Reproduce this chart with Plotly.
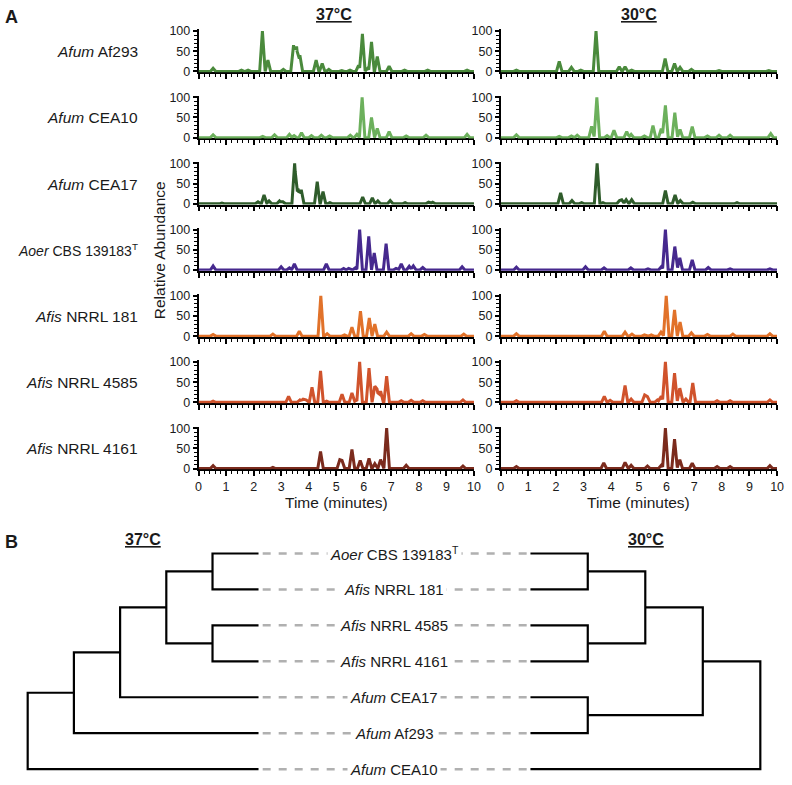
import plotly.graph_objects as go

# ---------------- data ----------------
STRAIN_LABELS = [
    "<i>Afum</i> Af293",
    "<i>Afum</i> CEA10",
    "<i>Afum</i> CEA17",
    "<i>Aoer</i> CBS 139183<sup>T</sup>",
    "<i>Afis</i> NRRL 181",
    "<i>Afis</i> NRRL 4585",
    "<i>Afis</i> NRRL 4161",
]
STRAIN_COLORS = ["#4a8a3c", "#6cb05c", "#2f5c2b", "#46298e", "#e1722a", "#d0532c", "#7b2b1d"]

# chromatogram peaks (time in minutes, relative abundance)
af293_37 = [(0.53, 8), (1.56, 3), (1.8, 3), (2.32, 100), (2.52, 28), (3.08, 5), (3.45, 65), (3.56, 62),
            (3.68, 40), (4.27, 28), (4.49, 20), (4.73, 5), (5.2, 2), (5.5, 3), (5.81, 15), (5.95, 93),
            (6.14, 8), (6.28, 73), (6.49, 37), (6.92, 13), (7.48, 3), (8.32, 3), (9.75, 3)]
cea10_37 = [(0.53, 7), (2.33, 3), (2.76, 7), (3.3, 8), (3.47, 5), (3.74, 12), (4.1, 5), (4.46, 6),
            (4.76, 4), (5.51, 6), (5.75, 8), (5.94, 100), (6.28, 50), (6.49, 23), (6.92, 15), (7.54, 4),
            (8.26, 6), (9.75, 8)]
cea17_37 = [(0.85, 2), (2.16, 5), (2.38, 22), (2.56, 7), (2.94, 7), (3.06, 5), (3.49, 100), (3.61, 38),
            (3.73, 35), (4.31, 55), (4.52, 30), (4.77, 3), (5.96, 17), (6.31, 15), (6.51, 7), (6.96, 8),
            (7.5, 3), (8.35, 4), (8.5, 4)]
aoer_37 = [(0.53, 10), (3.0, 8), (3.3, 5), (3.48, 15), (4.64, 15), (5.27, 4), (5.45, 4), (5.69, 5),
           (5.85, 100), (6.18, 83), (6.38, 42), (6.81, 65), (7.17, 4), (7.36, 15), (7.65, 9), (7.8, 10),
           (8.14, 6), (9.57, 8)]
afis181_37 = [(0.53, 4), (2.7, 5), (3.66, 12), (4.44, 100), (4.67, 6), (5.3, 3), (5.57, 22), (5.88, 62),
              (6.2, 45), (6.4, 30), (6.83, 10), (7.72, 6), (8.2, 4), (9.63, 5)]
afis4585_37 = [(0.53, 3), (3.27, 15), (3.68, 6), (3.8, 8), (3.9, 6), (4.12, 37), (4.43, 78), (4.65, 3),
               (5.21, 20), (5.57, 23), (5.72, 5), (5.85, 100), (6.19, 85), (6.4, 40), (6.48, 33),
               (6.61, 28), (6.83, 65), (7.36, 4), (7.72, 5), (8.14, 4), (9.6, 6)]
afis4161_37 = [(0.53, 7), (2.7, 3), (4.43, 42), (5.13, 22), (5.21, 20), (5.57, 47), (5.87, 20),
               (6.19, 25), (6.4, 12), (6.61, 22), (6.83, 100), (7.54, 8), (9.6, 6)]

af293_30 = [(0.57, 3), (2.12, 25), (2.56, 10), (2.9, 3), (3.45, 100), (4.29, 12), (4.5, 12), (4.74, 3),
            (5.95, 32), (6.29, 20), (6.49, 10), (6.9, 5), (7.9, 2), (9.7, 2)]
cea10_30 = [(0.57, 7), (2.12, 3), (2.56, 4), (2.77, 6), (3.29, 28), (3.48, 100), (3.85, 5), (4.1, 18),
            (4.56, 15), (4.72, 8), (5.2, 4), (5.51, 30), (5.81, 22), (5.96, 80), (6.3, 62), (6.49, 20),
            (6.93, 27), (7.48, 4), (7.9, 6), (8.3, 6), (9.77, 10)]
cea17_30 = [(2.17, 27), (2.58, 8), (2.93, 3), (3.49, 100), (3.7, 3), (4.3, 8), (4.38, 10), (4.54, 10),
            (4.74, 10), (5.96, 33), (6.31, 22), (6.5, 8), (6.95, 4), (8.55, 3)]
aoer_30 = [(0.57, 7), (3.07, 8), (3.74, 5), (4.71, 5), (5.33, 3), (5.81, 8), (5.96, 100), (6.3, 58),
           (6.48, 30), (6.93, 25), (7.51, 6), (8.3, 3), (9.74, 3)]
afis181_30 = [(0.57, 6), (3.75, 12), (4.5, 10), (4.75, 5), (5.2, 3), (5.45, 3), (5.8, 10), (5.99, 100),
              (6.29, 65), (6.49, 35), (6.9, 8), (7.48, 4), (8.4, 5), (9.74, 6)]
afis4585_30 = [(0.57, 4), (3.75, 15), (3.96, 5), (4.5, 42), (4.72, 8), (5.21, 18), (5.31, 14), (5.67, 6),
               (5.81, 15), (5.96, 100), (6.29, 72), (6.48, 35), (6.7, 8), (6.95, 48), (7.83, 4),
               (8.3, 4), (9.74, 6)]
afis4161_30 = [(0.57, 5), (3.73, 14), (4.5, 15), (4.72, 8), (5.31, 6), (5.81, 8), (5.96, 100), (6.29, 73),
               (6.48, 22), (6.93, 13), (7.83, 5), (8.3, 5), (9.74, 7)]

PEAKS_37 = [af293_37, cea10_37, cea17_37, aoer_37, afis181_37, afis4585_37, afis4161_37]
PEAKS_30 = [af293_30, cea10_30, cea17_30, aoer_30, afis181_30, afis4585_30, afis4161_30]

X_TICKS = list(range(0, 11))
Y_TICKS = [0, 50, 100]

# dendrogram (panel B)
LEAF_LABELS = [
    "<i>Aoer</i> CBS 139183<sup>T</sup>",
    "<i>Afis</i> NRRL 181",
    "<i>Afis</i> NRRL 4585",
    "<i>Afis</i> NRRL 4161",
    "<i>Afum</i> CEA17",
    "<i>Afum</i> Af293",
    "<i>Afum</i> CEA10",
]
# linkage: (child a, child b, merge height); new nodes numbered from len(leaves)
LINKS_37 = [(0, 1, 1), (2, 3, 1), (7, 8, 2), (9, 4, 3), (10, 5, 4), (11, 6, 5)]
LINKS_30 = [(0, 1, 1), (2, 3, 1), (4, 5, 1), (7, 8, 2), (10, 9, 3), (11, 6, 4)]

# ---------------- helpers ----------------
W, H = 792, 785
FONT = "Liberation Sans"
TXT = "#1a1a1a"


def px(x):
    return x / W


def py(y):
    return 1 - y / H


def chrom_xy(peaks, hw=0.1):
    xs = sorted(set([0.0, 10.0] + [round(t + d, 4) for t, _ in peaks for d in (-hw, 0.0, hw)]))
    xs = [x for x in xs if 0 <= x <= 10]
    ys = []
    for x in xs:
        v = 0.0
        for t, h in peaks:
            d = abs(x - t)
            if d < hw:
                v = max(v, h * (1 - d / hw))
        ys.append(v)
    return xs, ys


def dendro_xy(links, n):
    pos = {i: (float(i), 0.0) for i in range(n)}
    xs, ys = [], []
    for k, (a, b, h) in enumerate(links):
        ya, ha = pos[a]
        yb, hb = pos[b]
        xs += [ha, h, h, hb, None]
        ys += [ya, ya, yb, yb, None]
        pos[n + k] = ((ya + yb) / 2, h)
    return xs, ys


fig = go.Figure()
layout = dict(
    width=W, height=H, margin=dict(l=0, r=0, t=0, b=0),
    paper_bgcolor="white", plot_bgcolor="white", showlegend=False,
    font=dict(family=FONT, color=TXT),
)
annotations = []
shapes = []

XDOM = [[px(198), px(477)], [px(504), px(784)]]
for r in range(7):
    Y0 = 67.5 + 67.2 * r
    ydom = [py(Y0 + 0.82), py(Y0 - 42.64)]
    for c, peaks in enumerate([PEAKS_37[r], PEAKS_30[r]]):
        k = r * 2 + c + 1
        xn = "x" if k == 1 else f"x{k}"
        yn = "y" if k == 1 else f"y{k}"
        layout["xaxis" if k == 1 else f"xaxis{k}"] = dict(
            domain=XDOM[c], range=[0, 10], anchor=yn, showline=True, linecolor="black", linewidth=1.5,
            tickmode="array", tickvals=X_TICKS, ticktext=[str(v) for v in X_TICKS],
            ticks="outside", ticklen=5, tickwidth=1.5, tickcolor="black",
            minor=dict(dtick=0.2, tick0=0, ticks="outside", ticklen=3, tickwidth=1, tickcolor="black"),
            showgrid=False, zeroline=False, showticklabels=(r == 6),
            tickfont=dict(size=12.5, color=TXT, family=FONT), layer="below traces", fixedrange=True,
        )
        layout["yaxis" if k == 1 else f"yaxis{k}"] = dict(
            domain=ydom, range=[-2, 104], anchor=xn, showline=True, linecolor="black", linewidth=1.5,
            tickmode="array", tickvals=Y_TICKS, ticktext=[str(v) for v in Y_TICKS],
            ticks="outside", ticklen=4, tickwidth=1.5, tickcolor="black",
            minor=dict(dtick=10, tick0=0, ticks="outside", ticklen=2.5, tickwidth=1, tickcolor="black"),
            showgrid=False, zeroline=False,
            tickfont=dict(size=12.5, color=TXT, family=FONT), layer="below traces", fixedrange=True,
        )
        xs, ys = chrom_xy(peaks)
        fig.add_trace(go.Scatter(x=xs, y=ys, xaxis=xn, yaxis=yn, mode="lines",
                                 line=dict(color=STRAIN_COLORS[r], width=3), hoverinfo="skip"))
    annotations.append(dict(text=STRAIN_LABELS[r], x=px(139), y=py(Y0 - 20), xref="paper", yref="paper",
                            xanchor="right", yanchor="middle", showarrow=False,
                            font=dict(size=14 if r == 3 else 15.5, color=TXT, family=FONT)))

# panel A / B texts
extra = [
    dict(text="<b>A</b>", x=px(9), y=py(12.5), font=dict(size=18)),
    dict(text="<b><u>37°C</u></b>", x=px(335.5), y=py(10), font=dict(size=16)),
    dict(text="<b><u>30°C</u></b>", x=px(644), y=py(10), font=dict(size=16)),
    dict(text="Relative Abundance", x=px(158), y=py(249), textangle=-90, font=dict(size=15.5)),
    dict(text="Time (minutes)", x=px(337.5), y=py(505), font=dict(size=15.5)),
    dict(text="Time (minutes)", x=px(644), y=py(505), font=dict(size=15.5)),
    dict(text="<b>B</b>", x=px(9), y=py(545), font=dict(size=18)),
    dict(text="<b><u>37°C</u></b>", x=px(142), y=py(543), font=dict(size=16)),
    dict(text="<b><u>30°C</u></b>", x=px(651), y=py(543), font=dict(size=16)),
]
for a in extra:
    a.update(xref="paper", yref="paper", showarrow=False, xanchor="center", yanchor="middle")
    a["font"].update(color=TXT, family=FONT)
annotations += extra

# panel B dendrograms
n = len(LEAF_LABELS)
ydom_t = [py(557 + 36.5 * 6.2), py(557 - 36.5 * 0.25)]
layout["xaxis15"] = dict(domain=[px(20), px(259)], range=[5 + 5 / 46.8, 0], anchor="y15", visible=False, fixedrange=True)
layout["yaxis15"] = dict(domain=ydom_t, range=[6.2, -0.25], anchor="x15", visible=False, fixedrange=True)
layout["xaxis16"] = dict(domain=[px(534), px(772)], range=[0, 238 / 58.25], anchor="y16", visible=False, fixedrange=True)
layout["yaxis16"] = dict(domain=ydom_t, range=[6.2, -0.25], anchor="x16", visible=False, fixedrange=True)

for links, xn, yn in [(LINKS_37, "x15", "y15"), (LINKS_30, "x16", "y16")]:
    xs, ys = dendro_xy(links, n)
    fig.add_trace(go.Scatter(x=xs, y=ys, xaxis=xn, yaxis=yn, mode="lines",
                             line=dict(color="black", width=2.2), hoverinfo="skip"))

for i, lab in enumerate(LEAF_LABELS):
    shapes.append(dict(type="line", xref="paper", yref="y15", x0=px(263), x1=px(531), y0=i, y1=i,
                       line=dict(color="#b0b0b0", width=2.5, dash="8px,8px")))
    annotations.append(dict(text=lab, x=px(396.5), y=i, xref="paper", yref="y15", showarrow=False,
                            xanchor="center", yanchor="middle", bgcolor="white", borderpad=2,
                            font=dict(size=15, color=TXT, family=FONT)))

layout["annotations"] = annotations
layout["shapes"] = shapes
fig.update_layout(**layout)
fig.write_html("out.html", config={"displayModeBar": False},
               post_script="document.body.style.margin='0px';document.body.style.overflow='hidden';")
